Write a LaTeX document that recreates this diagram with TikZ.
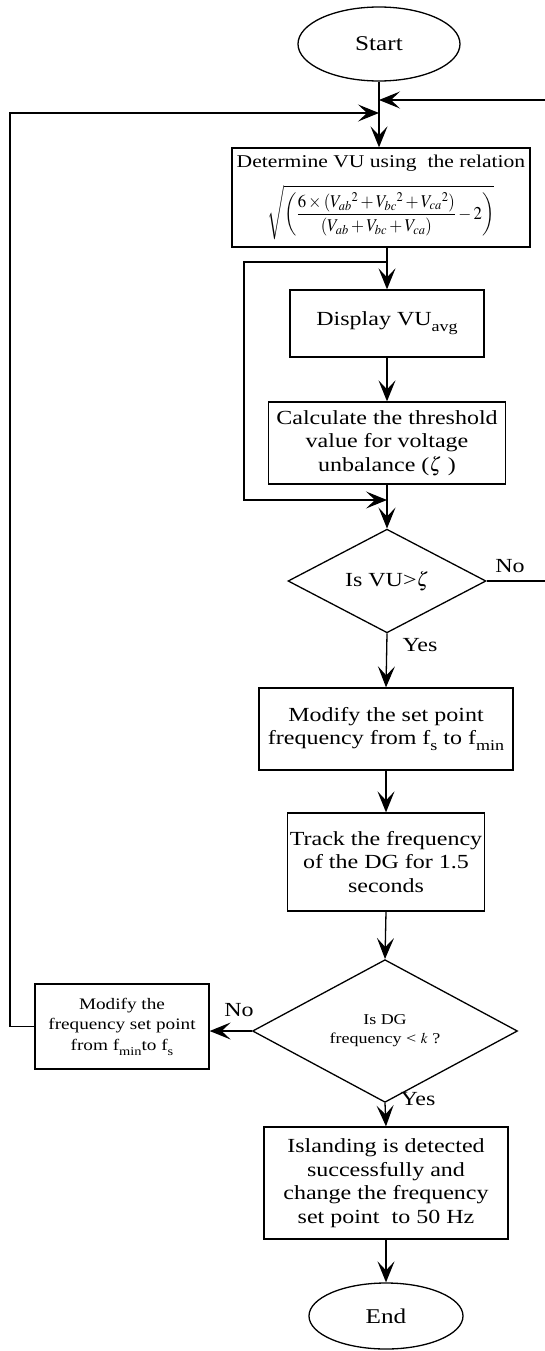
\documentclass[tikz,border=0pt]{standalone}
\usepackage{mathptmx}
\usepackage{fontspec}
\setmainfont[FakeStretch=1.2]{Liberation Serif}
\usepackage{graphicx}
\usetikzlibrary{shapes.geometric,arrows.meta}

% lowered subscript in running text
\newcommand{\lowsub}[3]{\raisebox{-#2}{\fontsize{#3}{#3}\selectfont #1}}

\tikzset{
  flowarrow/.style={-{Stealth[length=21pt,width=17pt,inset=9pt]}},
  proc/.style={draw, rectangle, inner sep=2pt, align=center,
    font=\fontsize{20}{23.5}\selectfont},
  term/.style={draw, ellipse, inner sep=0pt, font=\fontsize{21}{24}\selectfont},
  decision/.style={draw, diamond, inner sep=0pt, align=center,
    font=\fontsize{20}{23}\selectfont},
  lbl/.style={inner sep=0pt, font=\fontsize{20}{23}\selectfont},
}

\begin{document}
\begin{tikzpicture}[x=1pt, y=-1pt, line width=1.3pt]
\useasboundingbox (0,0) rectangle (545,1351);

% process steps
\node[term, minimum width=162pt, minimum height=74pt] (start) at (379,44) {Start};

\node[proc, minimum width=298pt, minimum height=99pt,
      font=\fontsize{18}{21}\selectfont] (vu) at (381,197.5)
  {Determine VU using\ \ the relation\\[13pt]
   {\fontsize{18}{21}\selectfont\scalebox{0.93}[1]{$\displaystyle\sqrt{\left(\frac{6\times\left(V_{ab}{}^{2}+V_{bc}{}^{2}+V_{ca}{}^{2}\right)}{\left(V_{ab}+V_{bc}+V_{ca}\right)}-2\right)}$}}};

\node[proc, minimum width=194pt, minimum height=67pt] (disp) at (387,323.5)
  {Display VU\lowsub{avg}{6pt}{15}};

\node[proc, minimum width=237pt, minimum height=82pt] (calc) at (387,443)
  {Calculate the threshold\\value for voltage\\unbalance ($\zeta$ )};

\node[decision, minimum width=198pt, minimum height=88pt] (chk1) at (387,581)
  {Is VU>$\zeta$};

\node[proc, minimum width=254pt, minimum height=82pt] (setmin) at (386,729)
  {Modify the set point\\frequency from f\lowsub{s}{6pt}{15} to f\lowsub{min}{6pt}{15}};

\node[proc, minimum width=192pt, minimum height=98pt] (track) at (386,862)
  {Track the frequency\\of the DG for 1.5\\seconds};

\node[decision, minimum width=265pt, minimum height=101pt,
      font=\fontsize{15}{19}\selectfont] (chk2) at (385,1031)
  {Is DG\\frequency < $k$ ?};

\node[proc, minimum width=174pt, minimum height=85pt,
      font=\fontsize{16}{20.5}\selectfont] (setback) at (122,1026.5)
  {Modify the\\frequency set point\\from f\lowsub{min}{5pt}{12}to f\lowsub{s}{5pt}{12}};

\node[proc, minimum width=244pt, minimum height=112pt] (island) at (386,1183)
  {Islanding is detected\\successfully and\\change the frequency\\set point\ \ to 50 Hz};

\node[term, minimum width=154pt, minimum height=66pt] (end) at (386,1316) {End};

% branch labels
\node[lbl] (no1) at (510,566) {No};
\node[lbl] (yes1) at (420,645) {Yes};
\node[lbl] (no2) at (239,1010) {No};
\node[lbl] (yes2) at (418,1099) {Yes};

% loose ends and corners
\coordinate (rin) at (545,100);
\coordinate (rout) at (545,581);
\coordinate (loopL) at (10,113);
\coordinate (j2) at (387,262);
\coordinate (fb) at (244,500);

% connectors
\draw[flowarrow] (rin) -- (start.south |- rin);
\draw[flowarrow] (setback.west) -| (loopL) -- (start.south |- loopL);
\draw[flowarrow] (start.south) -- (start.south |- vu.north);
\draw[flowarrow] (disp.north |- vu.south) -- (disp.north);
\draw[flowarrow] (j2) -| (fb) -- (calc.south |- fb);
\draw[flowarrow] (disp.south) -- (calc.north);
\draw[flowarrow] (calc.south) -- (chk1.north);
\draw (chk1.east) -- (rout);
\draw[flowarrow] (chk1.south) -- (setmin.north);
\draw[flowarrow] (setmin.south) -- (track.north);
\draw[flowarrow] (track.south) -- (chk2.north);
\draw[flowarrow] (chk2.west) -- (chk2.west -| setback.east);
\draw[flowarrow] (chk2.south) -- (island.north);
\draw[flowarrow] (island.south) -- (end.north);
\end{tikzpicture}
\end{document}
